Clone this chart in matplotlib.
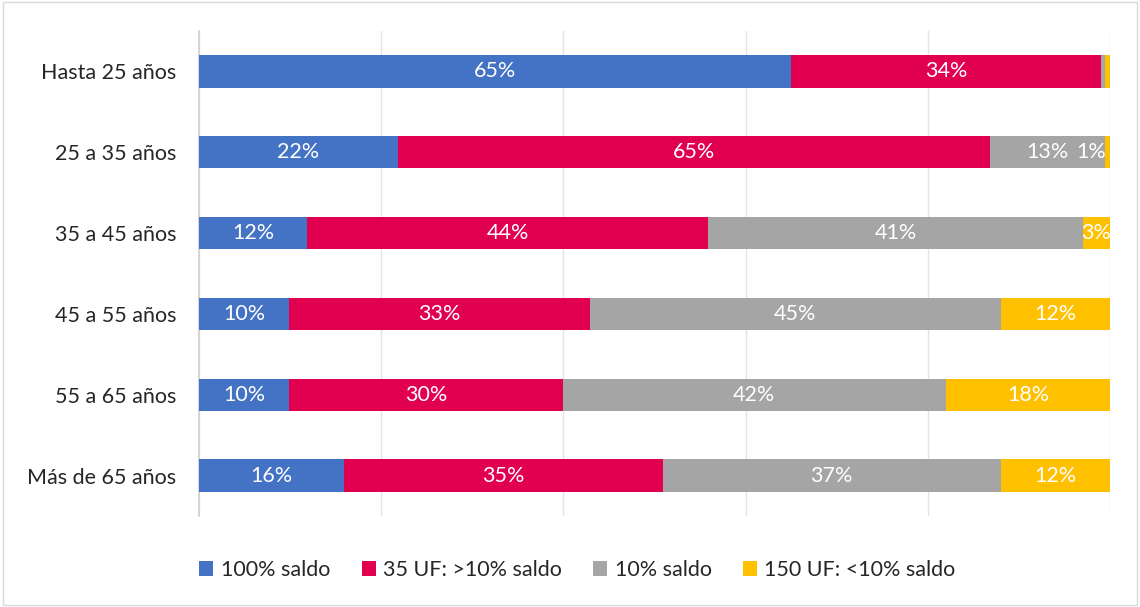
import matplotlib
matplotlib.use("Agg")
import matplotlib.pyplot as plt
from matplotlib.patches import Patch, Rectangle

categories = ["Hasta 25 años", "25 a 35 años", "35 a 45 años",
              "45 a 55 años", "55 a 65 años", "Más de 65 años"]
series_names = ["100% saldo", "35 UF: >10% saldo", "10% saldo", "150 UF: <10% saldo"]
s_100 = [65.0, 21.8, 11.9, 9.9, 9.9, 15.9]
s_35uf = [34.0, 65.0, 44.0, 33.0, 30.0, 35.0]
s_10 = [0.5, 12.6, 41.1, 45.1, 42.1, 37.1]
s_150uf = [0.5, 0.6, 3.0, 12.0, 18.0, 12.0]
series = [s_100, s_35uf, s_10, s_150uf]
colors = ["#4472C4", "#E1004F", "#A5A5A5", "#FFC000"]

plt.rcParams['font.family'] = ['Lato', 'DejaVu Sans']
fs = 15.5

fig = plt.figure(figsize=(11.4, 6.07), dpi=100)
ax = fig.add_axes([0.1746, 0.1499, 0.7991, 0.799])

ypos = list(range(len(categories)))
left = [0.0] * len(categories)
for vals, col in zip(series, colors):
    ax.barh(ypos, vals, left=left, height=0.4, color=col, zorder=3)
    for i, v in enumerate(vals):
        if v >= 0.55:
            cx = left[i] + v / 2
            ha = 'center'
            if cx > 98.6:
                cx, ha = 99.6, 'right'
            ax.text(cx, i, f"{round(v)}%", ha=ha, va='center', color='white',
                    fontsize=fs, zorder=4)
    left = [l + v for l, v in zip(left, vals)]

ax.set_xlim(0, 100)
ax.set_ylim(len(categories) - 0.5, -0.5)
ax.set_xticks([0, 20, 40, 60, 80, 100])
ax.set_xticklabels([])
ax.tick_params(axis='x', length=0)
ax.tick_params(axis='y', length=0, labelsize=fs, pad=16.5, labelcolor='#262626')
ax.set_yticks(ypos)
ax.set_yticklabels(categories)
ax.grid(axis='x', color='#E3E3E3', linewidth=1, zorder=0)
for s in ['top', 'right', 'bottom']:
    ax.spines[s].set_visible(False)
ax.spines['left'].set_color('#D0D0D0')
ax.spines['left'].set_linewidth(1.2)

handles = [Patch(facecolor=c, edgecolor='none') for c in colors]
fig.legend(handles, series_names, loc='center', bbox_to_anchor=(0.5066, 1 - 570 / 607),
           ncol=4, frameon=False, fontsize=fs, handlelength=0.65, handleheight=0.65,
           handletextpad=0.35, columnspacing=1.45, labelcolor='#262626')

fig.patches.append(Rectangle((0.003, 0.003), 0.994, 0.994, transform=fig.transFigure,
                             fill=False, edgecolor='#D9D9D9', linewidth=1))

fig.savefig("out.png", dpi=100, facecolor='white')
